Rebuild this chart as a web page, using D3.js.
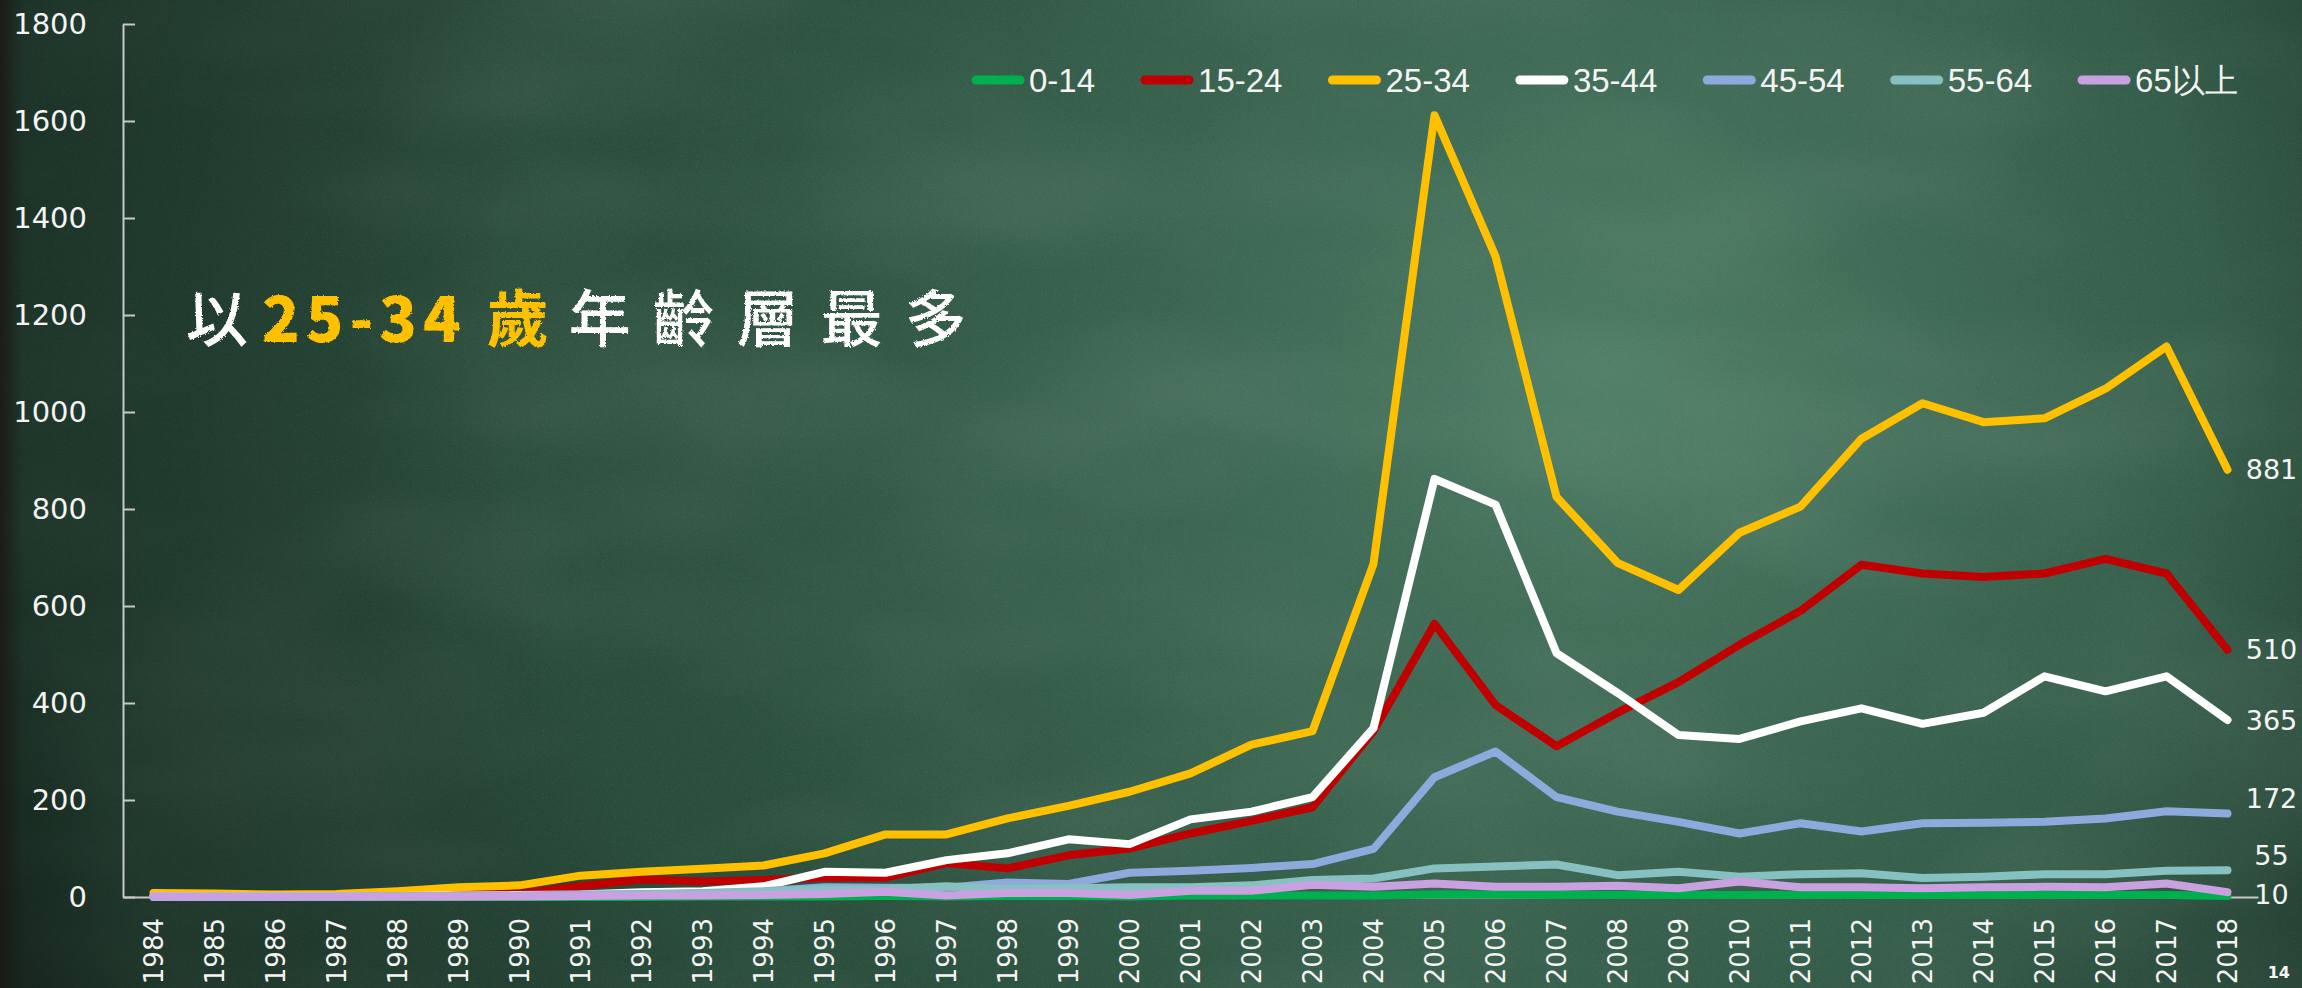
<!DOCTYPE html>
<html>
<head>
<meta charset="utf-8">
<script src="https://cdn.jsdelivr.net/npm/d3@7"></script>
<style>
  html, body { margin: 0; padding: 0; background: #1c3a2c; overflow: hidden; }
  svg { display: block; }
</style>
</head>
<body>
<div id="chart"></div>
<script>
// chart data
var years = ["1984","1985","1986","1987","1988","1989","1990","1991","1992","1993","1994","1995","1996","1997","1998","1999","2000","2001","2002","2003","2004","2005","2006","2007","2008","2009","2010","2011","2012","2013","2014","2015","2016","2017","2018"];
var seriesNames = ["0-14", "15-24", "25-34", "35-44", "45-54", "55-64", "65以上"];
var age0_14  = [0,0,0,0,0,0,0,0,0,1,1,1,2,1,2,2,1,3,3,3,3,5,5,4,4,4,4,4,4,4,4,4,4,4,2];
var age15_24 = [3,3,3,3,4,6,8,22,36,32,35,40,40,70,59,86,100,131,157,185,342,563,396,311,380,443,520,590,685,667,660,667,697,667,510];
var age25_34 = [8,7,5,6,12,20,24,44,52,58,65,90,129,129,162,188,217,255,314,342,687,1612,1321,825,689,633,751,805,945,1018,979,987,1048,1135,881];
var age35_44 = [1,1,1,2,2,3,4,5,10,12,22,52,50,76,90,119,109,160,176,206,348,862,809,503,421,334,326,362,389,357,380,455,424,455,365];
var age45_54 = [1,1,1,1,2,2,3,5,6,8,12,20,19,19,30,27,50,54,60,68,99,247,300,206,176,155,131,152,135,152,153,155,162,177,172];
var age55_64 = [0,0,0,1,1,1,2,3,5,7,11,15,16,22,16,18,20,20,24,35,38,59,63,67,45,52,42,47,49,39,42,47,47,54,55];
var age65up  = [1,1,1,1,1,1,1,2,3,3,4,6,11,3,8,8,4,13,13,25,21,28,21,21,23,18,32,20,20,18,20,21,20,28,10];
var yTicks = [0, 200, 400, 600, 800, 1000, 1200, 1400, 1600, 1800];

var seriesValues = [age0_14, age15_24, age25_34, age35_44, age45_54, age55_64, age65up];
var colors = ["#00B050", "#C00000", "#FFC000", "#FFFFFF", "#8EA9DB", "#86C0C0", "#C9A0E0"];
// which series get an end label (0-14 has none), and a small vertical nudge
var endLabelShift = [null, 0, 0, 0, -15, -15, 2];

var svgWidth = 2302;
var svgHeight = 988;

var margin = { top: 24, right: 44, bottom: 91, left: 123 };
var width = svgWidth - margin.left - margin.right;
var height = svgHeight - margin.top - margin.bottom;

var svg = d3.select("#chart")
  .append("svg")
  .attr("width", svgWidth)
  .attr("height", svgHeight);

// ---- chalkboard background ----
var defs = svg.append("defs");

var glow = defs.append("radialGradient")
  .attr("id", "glow")
  .attr("gradientUnits", "userSpaceOnUse")
  .attr("cx", 1600).attr("cy", 380).attr("r", 1250);
glow.append("stop").attr("offset", "0%").attr("stop-color", "#52826a").attr("stop-opacity", 0.9);
glow.append("stop").attr("offset", "50%").attr("stop-color", "#3d6a55").attr("stop-opacity", 0.6);
glow.append("stop").attr("offset", "100%").attr("stop-color", "#2a4d3c").attr("stop-opacity", 0);

var vignette = defs.append("radialGradient")
  .attr("id", "vignette")
  .attr("gradientUnits", "userSpaceOnUse")
  .attr("cx", 1350).attr("cy", 350).attr("r", 1550);
vignette.append("stop").attr("offset", "55%").attr("stop-color", "#000").attr("stop-opacity", 0);
vignette.append("stop").attr("offset", "85%").attr("stop-color", "#000").attr("stop-opacity", 0.3);
vignette.append("stop").attr("offset", "100%").attr("stop-color", "#000").attr("stop-opacity", 0.65);

var edge = defs.append("linearGradient").attr("id", "edge");
edge.append("stop").attr("offset", "0%").attr("stop-color", "#1a1912").attr("stop-opacity", 0.85);
edge.append("stop").attr("offset", "100%").attr("stop-color", "#1a1912").attr("stop-opacity", 0);

// fine chalk dust
var dust = defs.append("filter").attr("id", "dust")
  .attr("x", 0).attr("y", 0).attr("width", "100%").attr("height", "100%");
dust.append("feTurbulence").attr("type", "fractalNoise")
  .attr("baseFrequency", 0.9).attr("numOctaves", 2).attr("seed", 4);
dust.append("feColorMatrix").attr("type", "matrix")
  .attr("values", "0 0 0 0 1  0 0 0 0 1  0 0 0 0 1  0 0 0 0.9 -0.42");

// big smudges
var smudge = defs.append("filter").attr("id", "smudge")
  .attr("x", 0).attr("y", 0).attr("width", "100%").attr("height", "100%");
smudge.append("feTurbulence").attr("type", "fractalNoise")
  .attr("baseFrequency", "0.0025 0.006").attr("numOctaves", 3).attr("seed", 11);
smudge.append("feColorMatrix").attr("type", "matrix")
  .attr("values", "0 0 0 0 0.75  0 0 0 0 0.9  0 0 0 0 0.8  0 0 0 0.55 -0.2");

// rough edges for the chalk title
var chalk = defs.append("filter").attr("id", "chalk");
chalk.append("feTurbulence").attr("type", "fractalNoise")
  .attr("baseFrequency", 0.6).attr("numOctaves", 2).attr("result", "noise");
chalk.append("feDisplacementMap").attr("in", "SourceGraphic").attr("in2", "noise")
  .attr("scale", 3);

svg.append("rect").attr("width", svgWidth).attr("height", svgHeight).attr("fill", "#284a39");
svg.append("rect").attr("width", svgWidth).attr("height", svgHeight).attr("fill", "url(#glow)");
svg.append("rect").attr("width", svgWidth).attr("height", svgHeight).attr("filter", "url(#smudge)").attr("opacity", 0.3);
svg.append("rect").attr("width", svgWidth).attr("height", svgHeight).attr("filter", "url(#dust)").attr("opacity", 0.16);
svg.append("rect").attr("width", svgWidth).attr("height", svgHeight).attr("fill", "url(#vignette)");
svg.append("rect").attr("width", 22).attr("height", svgHeight).attr("fill", "url(#edge)");

var chartGroup = svg.append("g")
  .attr("transform", `translate(${margin.left}, ${margin.top})`);

// ---- scales ----
var xBandScale = d3.scaleBand()
  .domain(years)
  .range([0, width]);

var yLinearScale = d3.scaleLinear()
  .domain([0, 1800])
  .range([height, 0]);

var xCenter = d => xBandScale(d) + xBandScale.bandwidth() / 2;

// ---- axes ----
var leftAxis = d3.axisLeft(yLinearScale)
  .tickValues(yTicks)
  .tickFormat(d3.format("d"))
  .tickSizeInner(-12)
  .tickSizeOuter(0)
  .tickPadding(36);

var yAxisGroup = chartGroup.append("g").call(leftAxis);
yAxisGroup.select(".domain").attr("stroke", "#c8c8c8").attr("stroke-width", 2);
yAxisGroup.selectAll(".tick line").attr("stroke", "#c8c8c8").attr("stroke-width", 2);
yAxisGroup.selectAll("text")
  .attr("fill", "#f4f4f4")
  .attr("font-family", "DejaVu Sans, sans-serif")
  .attr("font-size", "29px");

var bottomAxis = d3.axisBottom(xBandScale)
  .tickSize(0)
  .tickPadding(0);

var xAxisGroup = chartGroup.append("g")
  .attr("transform", `translate(0, ${height})`)
  .call(bottomAxis);
xAxisGroup.select(".domain").attr("stroke", "#c8c8c8").attr("stroke-width", 2);
xAxisGroup.selectAll("text")
  .attr("fill", "#f4f4f4")
  .attr("font-family", "DejaVu Sans, sans-serif")
  .attr("font-size", "26px")
  .attr("text-anchor", "end")
  .attr("transform", "rotate(-90)")
  .attr("x", -21)
  .attr("y", 0)
  .attr("dy", "0.36em");

// ---- lines ----
var line = d3.line()
  .x((d, i) => xCenter(years[i]))
  .y(d => yLinearScale(d));

chartGroup.selectAll(".series")
  .data(seriesValues)
  .enter()
  .append("path")
  .attr("class", "series")
  .attr("d", d => line(d))
  .attr("fill", "none")
  .attr("stroke", (d, i) => colors[i])
  .attr("stroke-width", 8)
  .attr("stroke-linejoin", "round")
  .attr("stroke-linecap", "round");

// end-of-line value labels
var lastYear = years[years.length - 1];
seriesValues.forEach(function(vals, i) {
  if (endLabelShift[i] === null) return;
  var v = vals[vals.length - 1];
  chartGroup.append("text")
    .attr("x", xCenter(lastYear) + 44)
    .attr("y", yLinearScale(v) + endLabelShift[i])
    .attr("dy", "0.36em")
    .attr("text-anchor", "middle")
    .attr("fill", "#f4f4f4")
    .attr("font-family", "DejaVu Sans, sans-serif")
    .attr("font-size", "27px")
    .text(v);
});

// ---- legend ----
var legend = svg.append("g").attr("transform", "translate(976, 80)");
var legendX = 0;
seriesNames.forEach(function(name, i) {
  var item = legend.append("g").attr("transform", `translate(${legendX}, 0)`);
  item.append("line")
    .attr("x1", 0).attr("x2", 44)
    .attr("stroke", colors[i])
    .attr("stroke-width", 9)
    .attr("stroke-linecap", "round");
  var t = item.append("text")
    .attr("x", 53)
    .attr("dy", "0.36em")
    .attr("fill", "#f4f4f4")
    .attr("font-family", "Liberation Sans, Arial, sans-serif")
    .attr("font-size", "33px")
    .text(name);
  legendX += 53 + t.node().getComputedTextLength() + 50;
});

// ---- chalk title ----
var title = svg.append("text")
  .attr("x", 186)
  .attr("y", 342)
  .attr("font-family", "Noto Sans CJK TC, sans-serif")
  .attr("font-size", "62px")
  .attr("filter", "url(#chalk)");
title.append("tspan").attr("fill", "#ffffff").attr("font-weight", 500)
  .attr("letter-spacing", "14px").text("以");
title.append("tspan").attr("fill", "#FFC000").attr("font-weight", 900)
  .attr("letter-spacing", "6px").text("25-34");
title.append("tspan").attr("fill", "#FFC000").attr("font-weight", 700)
  .attr("dx", 20).attr("letter-spacing", "20px").text("歲");
title.append("tspan").attr("fill", "#ffffff").attr("font-weight", 500)
  .attr("letter-spacing", "22px").text("年齡層最多");

// page number in the corner
svg.append("text")
  .attr("x", 2290)
  .attr("y", 978)
  .attr("text-anchor", "end")
  .attr("fill", "#f4f4f4")
  .attr("font-family", "DejaVu Sans, sans-serif")
  .attr("font-size", "16px")
  .attr("font-weight", "bold")
  .text("14");
</script>
</body>
</html>
